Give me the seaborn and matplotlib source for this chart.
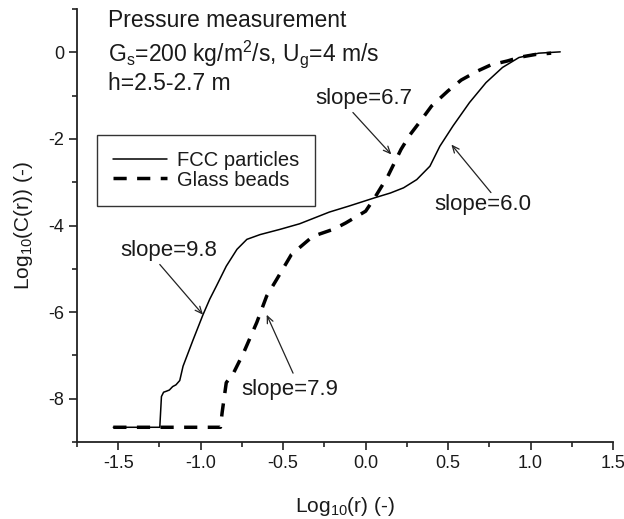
import matplotlib
matplotlib.use("Agg")
import matplotlib.pyplot as plt
import seaborn as sns
import pandas as pd
from matplotlib.ticker import MultipleLocator

# ---- data ----
fcc_x = [-1.53, -1.248, -1.238, -1.225, -1.21, -1.19, -1.17, -1.15, -1.127, -1.107,
         -1.08, -1.046, -0.986, -0.945, -0.905, -0.845, -0.78, -0.72, -0.64, -0.52,
         -0.40, -0.22, -0.10, 0.055, 0.15, 0.23, 0.31, 0.39, 0.45, 0.53, 0.63, 0.73,
         0.83, 0.93, 1.05, 1.18]
fcc_y = [-8.66, -8.66, -7.95, -7.85, -7.83, -7.80, -7.72, -7.68, -7.58, -7.25,
         -6.98, -6.64, -6.06, -5.70, -5.40, -4.94, -4.55, -4.32, -4.21, -4.09,
         -3.96, -3.69, -3.55, -3.36, -3.25, -3.13, -2.94, -2.63, -2.17, -1.70, -1.16, -0.70,
         -0.35, -0.12, -0.02, 0.01]

gb_x = [-1.53, -0.88, -0.87, -0.845, -0.80, -0.74, -0.66, -0.60, -0.54, -0.45,
        -0.32, -0.19, -0.12, 0.0, 0.055, 0.135, 0.215, 0.27, 0.34, 0.40,
        0.50, 0.58, 0.68, 0.76, 0.86, 0.94, 1.03, 1.125]
gb_y = [-8.66, -8.66, -8.32, -7.63, -7.40, -6.94, -6.24, -5.63, -5.25, -4.67,
        -4.25, -4.08, -3.94, -3.67, -3.36, -2.86, -2.24, -1.90, -1.55, -1.24,
        -0.89, -0.64, -0.43, -0.29, -0.20, -0.11, -0.05, -0.02]

series_names = ["FCC particles", "Glass beads"]

header_lines = ["Pressure measurement",
                r"G$_\mathregular{s}$=200 kg/m$^\mathregular{2}$/s, U$_\mathregular{g}$=4 m/s",
                "h=2.5-2.7 m"]

slope_labels = ["slope=9.8", "slope=7.9", "slope=6.7", "slope=6.0"]

x_label = r"Log$_\mathregular{10}$(r) (-)"
y_label = r"Log$_\mathregular{10}$(C(r)) (-)"

# ---- style ----
sns.set_style("ticks")
plt.rcParams["font.family"] = ["Liberation Sans", "DejaVu Sans"]
plt.rcParams["mathtext.fontset"] = "custom"
plt.rcParams["mathtext.rm"] = "Liberation Sans"
plt.rcParams["mathtext.it"] = "Liberation Sans:italic"
plt.rcParams["text.color"] = "#1a1a1a"
plt.rcParams["axes.labelcolor"] = "#1a1a1a"

fig = plt.figure(figsize=(6.24, 5.19), dpi=100)
ax = fig.add_axes([77 / 624, 1 - 442 / 519, (613 - 77) / 624, (442 - 9) / 519])

fcc_df = pd.DataFrame({"r": fcc_x, "C": fcc_y})
gb_df = pd.DataFrame({"r": gb_x, "C": gb_y})

sns.lineplot(data=fcc_df, x="r", y="C", ax=ax, color="black", linewidth=1.1,
             estimator=None, sort=False, label=series_names[0])
sns.lineplot(data=gb_df, x="r", y="C", ax=ax, color="black", linewidth=2.5,
             estimator=None, sort=False, label=series_names[1],
             linestyle=(0, (3.8, 3.0)))

ax.set_xlim(-1.75, 1.5)
ax.set_ylim(-9, 1.0)
ax.xaxis.set_major_locator(MultipleLocator(0.5))
ax.xaxis.set_minor_locator(MultipleLocator(0.25))
ax.yaxis.set_major_locator(MultipleLocator(2))
ax.yaxis.set_minor_locator(MultipleLocator(1))
ax.set_xticklabels([f"{v:.1f}" for v in ax.get_xticks()])
ax.set_yticklabels([f"{v:.0f}" for v in ax.get_yticks()])

sns.despine(ax=ax)
for s in ["left", "bottom"]:
    ax.spines[s].set_linewidth(1.3)
    ax.spines[s].set_color("#222222")
ax.tick_params(which="major", direction="out", length=6, width=1.2,
               color="#222222", labelsize=13, labelcolor="#1a1a1a", pad=3)
ax.tick_params(which="minor", direction="out", length=3.8, width=1.2, color="#222222")

ax.set_xlabel(x_label, fontsize=15, labelpad=17)
ax.set_ylabel(y_label, fontsize=15, labelpad=10)

# header text
ax.text(-1.564, 0.58, header_lines[0], fontsize=16.5, ha="left", va="baseline")
ax.text(-1.564, -0.21, header_lines[1], fontsize=16.5, ha="left", va="baseline")
ax.text(-1.564, -0.88, header_lines[2], fontsize=16.5, ha="left", va="baseline")

# slope annotations
arrow_kw = dict(arrowstyle="->,head_length=0.5,head_width=0.22", color="#222222", lw=0.9,
                shrinkA=0, shrinkB=0)
ax.text(-1.49, -4.71, slope_labels[0], fontsize=16, ha="left", va="baseline")
ax.annotate("", xy=(-0.986, -6.06), xytext=(-1.248, -4.90), arrowprops=arrow_kw)

ax.text(-0.753, -7.92, slope_labels[1], fontsize=16, ha="left", va="baseline")
ax.annotate("", xy=(-0.60, -6.06), xytext=(-0.44, -7.41), arrowprops=arrow_kw)

ax.text(-0.303, -1.20, slope_labels[2], fontsize=16, ha="left", va="baseline")
ax.annotate("", xy=(0.156, -2.36), xytext=(-0.077, -1.39), arrowprops=arrow_kw)

ax.text(0.418, -3.65, slope_labels[3], fontsize=16, ha="left", va="baseline")
ax.annotate("", xy=(0.52, -2.13), xytext=(0.76, -3.24), arrowprops=arrow_kw)

leg = ax.legend(loc="upper left", bbox_to_anchor=((97 - 77) / 536, (442 - 135) / 433),
                borderaxespad=0, fontsize=14.5, frameon=True, fancybox=False,
                handlelength=2.7, handletextpad=0.45, labelspacing=0.02,
                borderpad=0.8, edgecolor="#333333")
leg.get_frame().set_linewidth(1.0)
leg.get_frame().set_alpha(1)

fig.savefig("out.png", dpi=100)
